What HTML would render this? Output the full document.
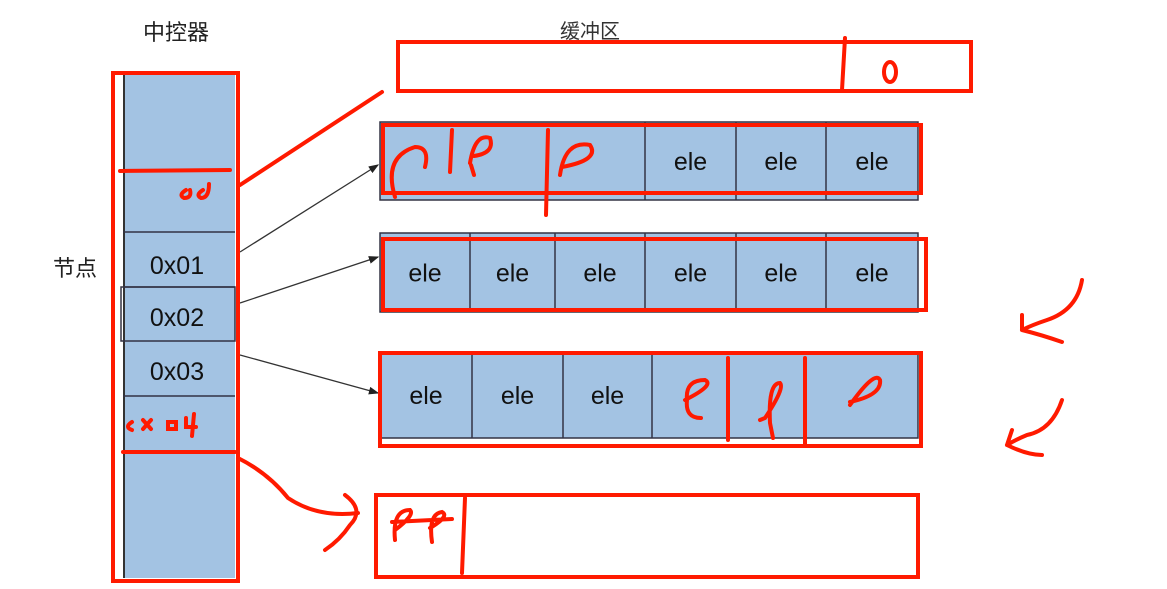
<!DOCTYPE html>
<html><head><meta charset="utf-8"><style>
html,body{margin:0;padding:0;background:#fff;width:1167px;height:589px;overflow:hidden}
svg{display:block}
text{font-family:"Liberation Sans","Noto Sans CJK SC",sans-serif}
</style></head><body>
<svg id="d" width="1167" height="589" viewBox="0 0 1167 589">
<defs><marker id="ah" markerWidth="8" markerHeight="8" refX="7" refY="4" orient="auto"><path d="M0,1 L8,4 L0,7z" fill="#222"/></marker></defs>
<text x="176" y="40" font-size="22" text-anchor="middle" fill="#222">中控器</text>
<text x="590" y="38" font-size="20" text-anchor="middle" fill="#333">缓冲区</text>
<text x="75" y="276" font-size="22" text-anchor="middle" fill="#222">节点</text>
<g>
<rect x="123" y="75" width="112" height="503" fill="#a3c3e3"/>
<line x1="124" y1="75" x2="124" y2="578" stroke="#333" stroke-width="2"/>
<line x1="123" y1="232" x2="235" y2="232" stroke="#334" stroke-width="1.5"/>
<line x1="123" y1="287" x2="235" y2="287" stroke="#334" stroke-width="1.5"/>
<rect x="121" y="287" width="114" height="54" fill="none" stroke="#334" stroke-width="1.5"/>
<line x1="123" y1="396" x2="235" y2="396" stroke="#334" stroke-width="1.5"/>
<text x="177" y="274" font-size="25" text-anchor="middle" fill="#111">0x01</text>
<text x="177" y="326" font-size="25" text-anchor="middle" fill="#111">0x02</text>
<text x="177" y="380" font-size="25" text-anchor="middle" fill="#111">0x03</text>
</g>
<g id="rows"></g>
<g stroke="#333" stroke-width="1.3" fill="none" marker-end="url(#ah)">
<line x1="240" y1="252" x2="378" y2="165"/>
<line x1="240" y1="303" x2="378" y2="257"/>
<line x1="240" y1="355" x2="378" y2="393"/>
</g>
<g stroke="#ff1a00" stroke-width="4" fill="none" stroke-linecap="round">
<rect x="113" y="73" width="125" height="508"/>
<rect x="398" y="42" width="573" height="49"/>
<path d="M845,38 L842,90"/>
<ellipse cx="890" cy="72" rx="6" ry="10"/>
<path d="M120,171 L230,170"/>
<path d="M240,185 L382,92"/>
<path d="M186,190 q-8,5 -2,8 q8,0 6,-8 M203,190 q-8,5 -2,8 q8,0 8,-14"/>
<rect x="383" y="125" width="538" height="68"/>
<path d="M395,197 q-12,-40 20,-50 q15,0 10,20 M452,130 L450,172 M470,163 q5,-30 20,-25 q5,15 -16,18 M471,165 l3,10 M548,130 l-2,85 M560,175 q5,-35 30,-30 q10,15 -28,22"/>
<rect x="383" y="239" width="543" height="71"/>
<rect x="380" y="353" width="541" height="93"/>
<path d="M728,358 L728,440 M805,358 L805,446"/>
<path d="M685,400 q30,-15 20,-20 q-20,0 -18,20 q-2,18 14,18 M760,420 l5,-2 q20,-30 15,-35 q-12,0 -10,40 l3,15 M850,405 q25,-35 30,-25 q2,15 -30,22"/>
<path d="M123,452 L235,452"/>
<path d="M132,422 q-8,5 0,8 M143,420 l8,9 M151,420 l-8,9 M168,422 l8,0 l0,7 l-8,0z M186,418 l0,9 l10,0 M194,414 l-2,22"/>
<rect x="376" y="495" width="542" height="82"/>
<path d="M238,458 q30,15 50,40 q30,20 70,15 M345,495 q20,15 5,30 q-10,15 -25,25"/>
<path d="M395,530 q20,-15 15,-20 q-18,0 -15,30 M392,522 l60,-3 M430,528 q20,-12 12,-16 q-14,2 -10,30 M465,498 l-3,75"/>
<path d="M1082,280 q-5,30 -35,40 q-15,5 -25,10 M1022,330 q20,5 40,12 M1022,330 l0,-15"/>
<path d="M1062,400 q-10,30 -35,35 q-12,5 -20,10 M1007,445 q20,10 35,10 M1007,445 l5,-15"/>
</g>
</svg>
<script>
const rowNames=['row-1','row-2','row-3'];
const rowLabels=[['','ele','ele','ele'],['ele','ele','ele','ele','ele','ele'],['ele','ele','ele','']];
const rowDividers=[[645,736,826],[470,555,645,736,826],[472,563,652]];
const rowTops=[122,233,352];
const rowHeights=[78,79,86];
const g=document.getElementById('rows');
const NS='http://www.w3.org/2000/svg';
rowNames.forEach((nm,i)=>{
  const r=document.createElementNS(NS,'rect');
  r.setAttribute('x',380);r.setAttribute('y',rowTops[i]);r.setAttribute('width',538);r.setAttribute('height',rowHeights[i]);
  r.setAttribute('fill','#a3c3e3');r.setAttribute('stroke','#334');r.setAttribute('stroke-width','1.5');
  
  
  g.appendChild(r);
  const bounds=[380].concat(rowDividers[i],[918]);
  rowDividers[i].forEach(x=>{
    const l=document.createElementNS(NS,'line');
    l.setAttribute('x1',x);l.setAttribute('x2',x);l.setAttribute('y1',rowTops[i]);l.setAttribute('y2',rowTops[i]+rowHeights[i]);
    l.setAttribute('stroke','#334');l.setAttribute('stroke-width','1.5');
    
    
    g.appendChild(l);
  });
  const labs=rowLabels[i];
  for(let k=0;k<bounds.length-1;k++){
    const lab=labs[k];
    if(!lab)continue;
    const t=document.createElementNS(NS,'text');
    t.setAttribute('x',(bounds[k]+bounds[k+1])/2);t.setAttribute('y',rowTops[i]+rowHeights[i]/2+9);
    t.setAttribute('font-size','25');t.setAttribute('text-anchor','middle');t.setAttribute('fill','#111');
    t.textContent=lab;
    
    
    g.appendChild(t);
  }
});
</script>
</body></html>
